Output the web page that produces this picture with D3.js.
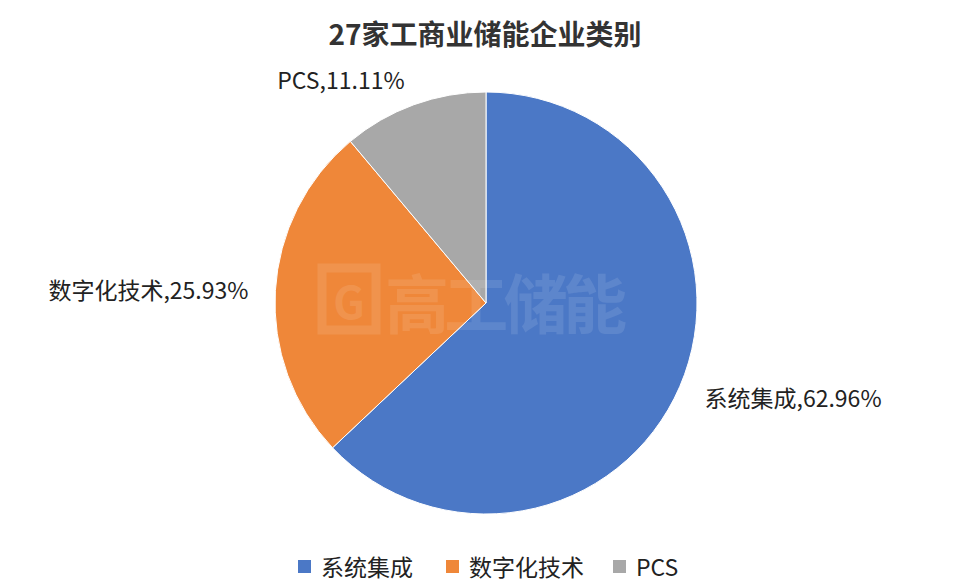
<!DOCTYPE html>
<html><head><meta charset="utf-8">
<script src="https://cdn.jsdelivr.net/npm/d3@7"></script>
<style>
body{margin:0;background:#fff;}
text{font-family:"Noto Sans CJK SC","Noto Sans",sans-serif;}
</style></head>
<body><svg id="c" width="974" height="587"></svg>
<script>
const categories = ["系统集成","数字化技术","PCS"];
const counts = [17, 7, 3];
const percentLabels = ["62.96%","25.93%","11.11%"];
const colors = ["#4b78c6","#ef8739","#a8a8a8"];
const title = "27家工商业储能企业类别";

const svg = d3.select("#c");
const W = 974, H = 587;
const cx = 486, cy = 303, r = 211;

svg.append("text").attr("x", W/2 - 2).attr("y", 33).attr("text-anchor","middle")
  .attr("dominant-baseline","central")
  .attr("font-size",28).attr("font-weight","bold").attr("fill","#333").text(title);

const pie = d3.pie().sort(null).value(d=>d);
const arcs = pie(counts);
const arc = d3.arc().innerRadius(0).outerRadius(r);
const g = svg.append("g").attr("transform",`translate(${cx},${cy})`);
g.selectAll("path").data(arcs).join("path")
  .attr("d",arc).attr("fill",(d,i)=>colors[i])
  .attr("stroke","#fff").attr("stroke-width",1);

// watermark
const wm = svg.append("g").attr("opacity",0.1);
wm.append("rect").attr("x",322).attr("y",268).attr("width",54).attr("height",62)
  .attr("fill","none").attr("stroke","#fff").attr("stroke-width",9);
wm.append("text").attr("x",349).attr("y",300).attr("text-anchor","middle")
  .attr("dominant-baseline","central").attr("font-size",44).attr("font-weight","bold")
  .attr("fill","#fff").text("G");
wm.append("text").attr("x",385).attr("y",300).attr("dominant-baseline","central")
  .attr("font-size",64).attr("font-weight","bold").attr("fill","#fff")
  .attr("textLength",242).text("高工储能");

// labels
const R = 238;
g.selectAll("text.lbl").data(arcs).join("text").attr("class","lbl")
  .each(function(d,i){
    const a = (d.startAngle + d.endAngle)/2;
    const x = R*Math.sin(a), y = -R*Math.cos(a);
    d3.select(this).attr("x",x).attr("y",y)
      .attr("text-anchor", Math.sin(a) >= 0 ? "start" : "end");
  })
  .attr("dominant-baseline","central").attr("font-size",23).attr("fill","#222")
  .text((d,i)=>categories[i]+","+percentLabels[i]);

// legend
const legendX = [298, 446, 613];
const lg = svg.append("g");
categories.forEach((c,i)=>{
  lg.append("rect").attr("x",legendX[i]).attr("y",560).attr("width",13).attr("height",13).attr("fill",colors[i]);
  lg.append("text").attr("x",legendX[i]+23).attr("y",566).attr("dominant-baseline","central")
    .attr("font-size",23).attr("fill","#222").text(c);
});
</script></body></html>
